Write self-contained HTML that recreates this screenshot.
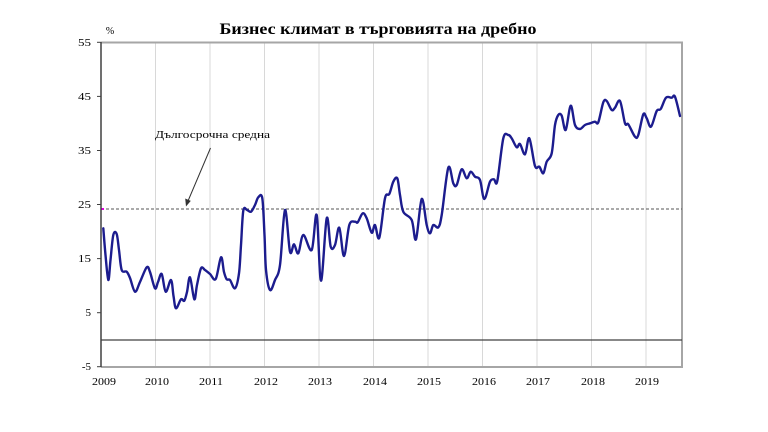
<!DOCTYPE html>
<html><head><meta charset="utf-8"><style>
html,body{margin:0;padding:0;background:#fff;}
svg{display:block;}
text{font-family:"Liberation Serif","DejaVu Serif",serif;fill:#000;}
</style></head><body>
<svg width="768" height="432" viewBox="0 0 768 432" xmlns="http://www.w3.org/2000/svg">
<rect width="768" height="432" fill="#fff"/>
<text x="378" y="34" font-size="16" font-weight="bold" text-anchor="middle" textLength="317" lengthAdjust="spacingAndGlyphs">Бизнес климат в търговията на дребно</text>
<text x="110" y="34" font-size="10" text-anchor="middle">%</text>
<g stroke="#d8d8d8" stroke-width="1">
<line x1="155.5" y1="42" x2="155.5" y2="367"/>
<line x1="210" y1="42" x2="210" y2="367"/>
<line x1="264.5" y1="42" x2="264.5" y2="367"/>
<line x1="319" y1="42" x2="319" y2="367"/>
<line x1="373.5" y1="42" x2="373.5" y2="367"/>
<line x1="428" y1="42" x2="428" y2="367"/>
<line x1="482.5" y1="42" x2="482.5" y2="367"/>
<line x1="537" y1="42" x2="537" y2="367"/>
<line x1="591.5" y1="42" x2="591.5" y2="367"/>
<line x1="646" y1="42" x2="646" y2="367"/>
</g>
<line x1="101" y1="42.5" x2="683" y2="42.5" stroke="#a6a6a6" stroke-width="2"/>
<line x1="682" y1="42" x2="682" y2="367" stroke="#a6a6a6" stroke-width="2"/>
<line x1="101" y1="367" x2="683" y2="367" stroke="#a6a6a6" stroke-width="2"/>
<line x1="101" y1="340" x2="682" y2="340" stroke="#404040" stroke-width="1.3"/>
<line x1="101" y1="209" x2="682" y2="209" stroke="#555" stroke-width="1" stroke-dasharray="3,2"/>
<line x1="101" y1="209" x2="104" y2="209" stroke="#e000e0" stroke-width="2"/>
<line x1="101" y1="42" x2="101" y2="367" stroke="#404040" stroke-width="1.5"/>
<g stroke="#404040" stroke-width="1">
<line x1="97" y1="42.3" x2="101" y2="42.3"/>
<line x1="97" y1="96.4" x2="101" y2="96.4"/>
<line x1="97" y1="150.5" x2="101" y2="150.5"/>
<line x1="97" y1="204.5" x2="101" y2="204.5"/>
<line x1="97" y1="258.6" x2="101" y2="258.6"/>
<line x1="97" y1="312.7" x2="101" y2="312.7"/>
<line x1="97" y1="366.7" x2="101" y2="366.7"/>
</g>
<g font-size="11" text-anchor="end">
<text x="91" y="46" textLength="13" lengthAdjust="spacingAndGlyphs">55</text>
<text x="91" y="100" textLength="13" lengthAdjust="spacingAndGlyphs">45</text>
<text x="91" y="154" textLength="13" lengthAdjust="spacingAndGlyphs">35</text>
<text x="91" y="208" textLength="13" lengthAdjust="spacingAndGlyphs">25</text>
<text x="91" y="262" textLength="13" lengthAdjust="spacingAndGlyphs">15</text>
<text x="91" y="316">5</text>
<text x="91" y="370">-5</text>
</g>
<g font-size="11" text-anchor="middle">
<text x="104" y="385" textLength="24" lengthAdjust="spacingAndGlyphs">2009</text>
<text x="157" y="385" textLength="24" lengthAdjust="spacingAndGlyphs">2010</text>
<text x="211" y="385" textLength="24" lengthAdjust="spacingAndGlyphs">2011</text>
<text x="266" y="385" textLength="24" lengthAdjust="spacingAndGlyphs">2012</text>
<text x="320" y="385" textLength="24" lengthAdjust="spacingAndGlyphs">2013</text>
<text x="375" y="385" textLength="24" lengthAdjust="spacingAndGlyphs">2014</text>
<text x="429" y="385" textLength="24" lengthAdjust="spacingAndGlyphs">2015</text>
<text x="484" y="385" textLength="24" lengthAdjust="spacingAndGlyphs">2016</text>
<text x="538" y="385" textLength="24" lengthAdjust="spacingAndGlyphs">2017</text>
<text x="593" y="385" textLength="24" lengthAdjust="spacingAndGlyphs">2018</text>
<text x="647" y="385" textLength="24" lengthAdjust="spacingAndGlyphs">2019</text>
</g>
<text x="155" y="138" font-size="11" textLength="115" lengthAdjust="spacingAndGlyphs">Дългосрочна средна</text>
<line x1="210.5" y1="148" x2="188" y2="201" stroke="#333" stroke-width="1"/>
<polygon points="186,206.5 185.2,198.5 190.8,200.9" fill="#333"/>
<polyline id="ser" fill="none" stroke="#1c1c8e" stroke-width="2.4" stroke-linejoin="round" stroke-linecap="round" points="
103.3,228.3 105.5,255 108.3,280 110.5,260 113.3,235 116.7,234 119,250 121.7,270 126.7,271.7 130,278 135,291.7 140,282 146.7,267.3 150,272 155,288.3 158,282 161.7,274 165.7,291.7 171,280 173.5,296 176,308.3 181,299.3 184.3,300.7 187,292 190,277.3 194.3,299.3 197,285 201,268.3 205,270 210,274 215.7,279 221,257.3 224,272 226.7,279.3 230,280 235,288.3 239,273.3 241,245 243.3,210.7 247,210 251,211.7 255,205 258.3,197.3 262.3,198.3 264.5,235 266,270 270,290 275,280 280,265 285,210 290,251.7 294,244.3 298.3,253.3 303.3,235 311.7,250 316.7,215 321,280.7 326.7,218.3 330.7,246.7 335,245 339.3,227.7 344,256 349.3,225 355,221.7 357.7,222.3 362.7,213.3 366.7,218.3 371.7,232.7 375,225 379.3,237.7 385,198.3 389.3,194 393.3,181.7 397.3,178.3 400,195 403.3,211.7 411.7,220 416,239.3 421.7,199 426.7,225 430,233.3 433.3,225 438.3,227.3 441.7,215 448.3,167.7 453.3,183.3 456.7,185 461.7,169.3 466.7,178.3 470.7,171.7 475,176.7 480,180 484.3,199 490,181.7 494,179.3 497.3,181 503.3,138.3 508.3,135 511.7,138.3 516.7,147.3 520,144 525,154.3 529.3,138.3 535,166 539.3,166.7 543.3,173.3 546.7,161.7 551.7,153.3 555,125 558.3,115 561.7,115.7 565.7,130 570.7,105.7 575,125 580,129 585,125 590,123.3 595,121.7 598.3,122.3 603.3,102.3 606.7,101 611.7,110 615,107.7 620,101 625,123.3 628.3,124.3 635,136.7 638.3,135 643.3,114.3 646.7,118.3 651,126.7 656.7,111 660.7,109 666,97.7 671.7,97.7 675,96.7 680,116"/>
</svg>
<script>
(function(){
var pl=document.getElementById('ser');
var raw=pl.getAttribute('points').trim().split(/\s+/).map(function(s){var a=s.split(',');return [parseFloat(a[0]),parseFloat(a[1])];});
var d='M'+raw[0][0]+','+raw[0][1];
for(var i=0;i<raw.length-1;i++){
var p0=raw[i>0?i-1:i],p1=raw[i],p2=raw[i+1],p3=raw[i+2<raw.length?i+2:i+1];
var c1x=p1[0]+(p2[0]-p0[0])/6,c1y=p1[1]+(p2[1]-p0[1])/6;
var c2x=p2[0]-(p3[0]-p1[0])/6,c2y=p2[1]-(p3[1]-p1[1])/6;
d+=' C'+c1x.toFixed(2)+','+c1y.toFixed(2)+' '+c2x.toFixed(2)+','+c2y.toFixed(2)+' '+p2[0]+','+p2[1];
}
var ns='http://www.w3.org/2000/svg';
var p=document.createElementNS(ns,'path');
p.setAttribute('d',d);
p.setAttribute('fill','none');
p.setAttribute('stroke','#1c1c8e');
p.setAttribute('stroke-width','2.4');
p.setAttribute('stroke-linejoin','round');
p.setAttribute('stroke-linecap','round');
pl.parentNode.replaceChild(p,pl);
})();
</script>
</body></html>
